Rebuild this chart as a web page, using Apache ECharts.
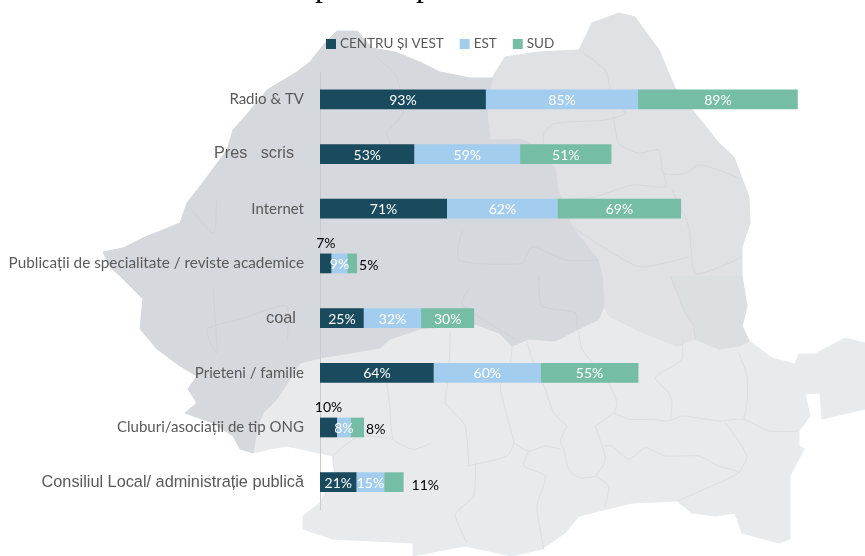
<!DOCTYPE html>
<html><head><meta charset="utf-8">
<style>html,body{margin:0;padding:0;background:#fff}#c{width:865px;height:556px}</style>
<script src="https://cdn.jsdelivr.net/npm/echarts@6/dist/echarts.min.js"></script>
</head><body><div id="c"></div>
<script>
var categories=["Radio & TV","Pres   scris","Internet","Publicații de specialitate / reviste academice","coal","Prieteni / familie","Cluburi/asociații de tip ONG","Consiliul Local/ administrație publică"];
var seriesNames=["CENTRU ȘI VEST","EST","SUD"];
// values; the printed labels are these rounded to whole percent
var centruVest=[92.7,52.8,71,6.5,24.5,63.6,9.5,20.5];
var est=[85,59,61.8,8.8,32,59.7,7.6,15.4];
var sud=[89.2,51,68.9,5.4,29.6,54.6,7.5,10.8];
var colors=["#1a4a5e","#a3cdee","#75bda5"];

// background map, traced in 3x crop coordinates
var q1=function(a){return a.map(function(p){return [p[0]/3,p[1]/3]})};
var q2=function(a){return a.map(function(p){return [p[0]/3,276+p[1]/3]})};
var q3=function(a){return a.map(function(p){return [432+p[0]/3,p[1]/3]})};
var q4=function(a){return a.map(function(p){return [432+p[0]/3,276+p[1]/3]})};
var regionWest=[[337,31],[357,31],[372,48],[395,52],[420,62],[440,72],[470,78],[492,78],[487,113],[490,140],[520,139],[530,143],[555,168],[558,190],[572,227],[598,260],[602,276],[604,306],[599,319],[579,329],[565,336],[555,341],[529,339],[512,346],[499,333],[475,324],[420,329],[390,339],[380,348],[320,358],[300,363],[290,379],[277,399],[263,413],[258,425],[253,453],[240,449],[233,436],[213,423],[185,413],[197,403],[188,389],[197,376],[180,366],[157,349],[140,329],[143,299],[133,289],[120,276],[110,267],[103,252],[123,248],[143,238],[180,223],[187,203],[207,177],[227,150],[233,130],[248,113],[267,90],[297,72],[310,62],[325,43]];
var regionEast=[[492,78],[505,57],[539,52],[579,50],[592,23],[619,13],[635,17],[659,50],[675,88],[695,113],[719,143],[734,157],[749,197],[750,223],[742,247],[742,280],[747,306],[742,326],[749,341],[739,346],[719,349],[695,339],[677,346],[639,331],[629,326],[609,316],[604,306],[602,276],[598,260],[572,227],[558,190],[555,168],[530,143],[520,139],[490,140],[487,113]];
var regionEastLow=[[670,276],[685,313],[694,326],[695,339],[719,349],[739,346],[749,341],[742,326],[747,306],[742,276]];
var regionSouth=[[263,413],[277,399],[290,379],[300,363],[320,358],[380,348],[390,339],[420,329],[475,324],[499,333],[512,346],[529,339],[555,341],[565,336],[579,329],[599,319],[604,306],[609,316],[629,326],[639,331],[677,346],[695,339],[719,349],[739,346],[749,341],[772,358],[795,364],[799,354],[815,354],[845,338],[865,343],[865,409],[822,419],[820,393],[805,394],[810,416],[799,431],[799,446],[804,449],[790,476],[790,539],[779,543],[742,533],[735,513],[715,516],[692,513],[677,501],[632,503],[579,516],[565,533],[542,549],[512,556],[465,546],[413,556],[413,543],[333,539],[303,529],[303,516],[320,503],[335,473],[333,456],[287,446],[270,449],[253,453],[258,425]];
var bordersSouth=[
 q4([[285,195],[300,250],[340,340],[365,410],[405,450]]),
 q4([[440,165],[450,220],[530,320],[555,380],[545,410],[490,450]]),
 q4([[545,410],[590,430],[660,430],[710,435],[750,420],[860,435],[935,430],[1010,465],[1100,465]]),
 q4([[750,190],[750,250],[670,305],[710,350],[720,380],[715,435]]),
 q4([[920,230],[945,300],[945,380],[935,430]]),
 q4([[240,210],[235,260],[205,330],[225,420],[245,500],[225,540],[105,570]]),
 q4([[55,170],[50,300],[40,380],[65,410],[100,450],[110,570]]),
 q4([[405,450],[385,495],[395,520],[410,580],[440,605],[490,600],[520,550],[490,450]]),
 q4([[490,600],[530,630],[520,690]]),
 q4([[245,500],[290,525],[340,510],[385,520]]),
 q4([[290,525],[275,570],[340,600],[315,690],[335,820]]),
 q4([[130,560],[125,660],[70,715],[105,800]]),
 q4([[520,510],[540,510],[590,550],[640,515],[700,540],[800,540],[860,570],[920,590],[735,675]]),
 q4([[880,440],[945,540],[920,590]]),
 q2([[1160,320],[1170,400],[1180,490],[1240,520],[1296,500]]),
 q2([[1005,590],[1000,540],[1080,480],[1180,490]])
];
var bordersEast=[
 q3([[440,150],[520,210],[540,290],[580,340],[520,360],[370,370],[335,400],[335,440]]),
 q3([[545,350],[560,430],[620,460],[680,450],[695,520],[760,520],[800,495],[860,510],[920,535]]),
 q3([[695,520],[700,560],[600,555],[490,590],[380,600]]),
 q3([[720,570],[770,680],[790,820],[890,790],[930,770]]),
 q3([[420,680],[620,800],[770,770]]),
 q4([[715,0],[760,110],[785,150],[790,190]])
];
var bordersWest=[
 q1([[1130,170],[1190,230],[1210,340],[1160,400],[1200,470],[1290,470]]),
 q1([[650,600],[640,700],[560,610]]),
 q2([[640,40],[650,230],[620,160],[720,130],[860,90],[860,200]]),
 q3([[90,690],[80,780],[270,790],[300,740],[400,780],[500,780]]),
 q4([[110,40],[90,85],[250,190]]),
 q4([[320,0],[330,90],[430,110],[435,160]])
];
function poly(pts,fill){return {type:'polygon',silent:true,shape:{points:pts,smooth:0},style:{fill:fill,stroke:fill,lineWidth:1,lineJoin:'round'}}}
function line(pts,col){return {type:'polyline',silent:true,shape:{points:pts,smooth:0.2},style:{fill:null,stroke:col,lineWidth:1}}}
var mapEls=[poly(regionSouth,'#e9eaec'),poly(regionEast,'#dfe1e4'),poly(regionEastLow,'#dcdfe2'),poly(regionWest,'#d5d8dc')];
bordersSouth.forEach(function(b){mapEls.push(line(b,'#dcdee1'))});
bordersEast.forEach(function(b){mapEls.push(line(b,'#d5d7db'))});
bordersWest.forEach(function(b){mapEls.push(line(b,'#ced1d6'))});

// labels that sit outside their small bars
var labelTop={0:{3:1,6:1}};
var labelRight={2:{3:1,6:1,7:1}};
function items(values,si){
 return values.map(function(v,i){
  var d={value:v};
  if(labelTop[si]&&labelTop[si][i]) d.label={position:'top',color:'#000',distance:4};
  if(labelRight[si]&&labelRight[si][i]) d.label={position:'right',color:'#000',distance:i===7?8:2,offset:[0,i===7?3:2]};
  return d;
 });
}
var axisRich={
 a:{fontFamily:'Lato',fontSize:15,color:'#595959'},
 e:{fontFamily:'Lato',fontSize:15.3,color:'#595959'},
 b:{fontFamily:'Liberation Sans',fontSize:16.2,color:'#595959',padding:[0,10,0,0]},
 c:{fontFamily:'Liberation Sans',fontSize:16.4,color:'#595959',padding:[0,8,0,0]},
 d:{fontFamily:'Liberation Sans',fontSize:16.3,color:'#595959'}
};
var axisStyleOf={"Pres   scris":'b',"coal":'c',"Consiliul Local/ administrație publică":'d',"Publicații de specialitate / reviste academice":'e'};
var chart=echarts.init(document.getElementById('c'),null,{renderer:'canvas'});
chart.setOption({
 animation:false,
 backgroundColor:'#fff',
 graphic:{elements:mapEls.concat([
  {type:'text',silent:true,style:{x:315,y:-28,text:'p',font:'32px "Liberation Serif"',fill:'#000'}},
  {type:'text',silent:true,style:{x:416,y:-28,text:'p',font:'32px "Liberation Serif"',fill:'#000'}}
 ])},
 legend:{left:326,top:37,padding:0,itemWidth:10,itemHeight:10,itemGap:16,icon:'rect',selectedMode:false,
  textStyle:{fontFamily:'Lato',fontSize:13.5,color:'#595959',padding:[1,0,0,-1]},data:seriesNames},
 grid:{left:320,top:72,width:537,height:437.5},
 xAxis:{type:'value',min:0,max:300,show:false},
 yAxis:{type:'category',inverse:true,data:categories,
  axisTick:{show:false},axisLine:{show:true,lineStyle:{color:'#c9cbcf',width:1}},
  axisLabel:{margin:16,rich:axisRich,formatter:function(v){return '{'+(axisStyleOf[v]||'a')+'|'+v+'}'}}},
 series:[centruVest,est,sud].map(function(vals,si){return {
  name:seriesNames[si],type:'bar',stack:'t',barWidth:19.7,data:items(vals,si),
  itemStyle:{color:colors[si]},
  label:{show:true,position:'inside',offset:[0,1],color:'#fff',fontFamily:'Lato',fontSize:14,
   formatter:function(p){return Math.round(p.value)+'%'}}
 }})
});
</script></body></html>
